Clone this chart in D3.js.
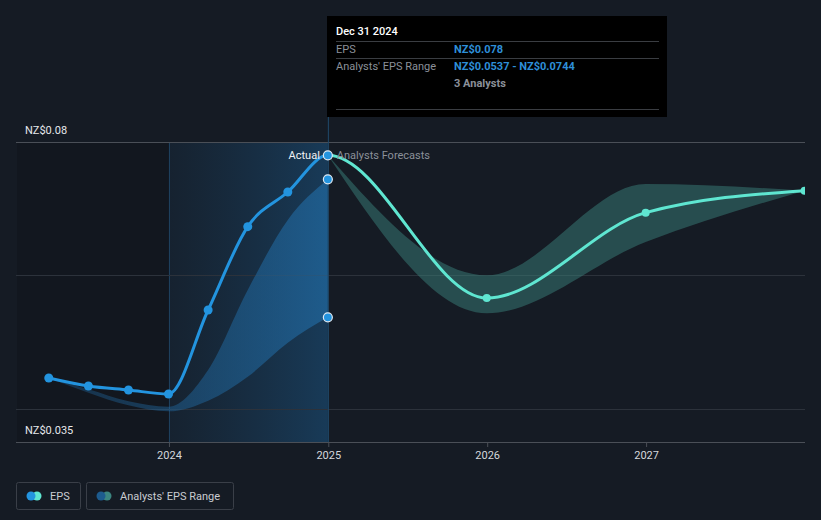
<!DOCTYPE html>
<html>
<head>
<meta charset="utf-8">
<script src="https://cdn.jsdelivr.net/npm/d3@7"></script>
<style>
    body { margin: 0; background: #151b24; font-family: Roboto, "Noto Sans", sans-serif; }
    #graphOne { display: block; }
</style>
</head>
<body>
<svg id="graphOne" width="821" height="520"></svg>
<script>
// quarterly reported EPS
var pastDates = ["2023-03-31", "2023-06-30", "2023-09-30", "2023-12-31", "2024-03-31", "2024-06-30", "2024-09-30", "2024-12-31"];
var pastEps = [0.0446, 0.0434, 0.0428, 0.0422, 0.0548, 0.0673, 0.0725, 0.078];
// analysts range around the past values
var pastLow = [0.0446, 0.0424, 0.0405, 0.0396, 0.0412, 0.0448, 0.0499, 0.0537];
var pastHigh = [0.0446, 0.0429, 0.0411, 0.0403, 0.0458, 0.0578, 0.0683, 0.0744];
// forecasts
var foreDates = ["2024-12-31", "2025-12-31", "2026-12-31", "2027-12-31"];
var foreEps = [0.078, 0.0566, 0.0694, 0.0727];
var foreLow = [0.078, 0.0543, 0.065, 0.0727];
var foreHigh = [0.078, 0.06, 0.0737, 0.0727];
var yTicks = [0.04, 0.06, 0.08];
var xTicks = ["2024-01-01", "2025-01-01", "2026-01-01", "2027-01-01"];

var blue = "#2394df";
var teal = "#5fe6d1";
var parse = d3.timeParse("%Y-%m-%d");
var svg = d3.select("#graphOne");

var x = d3.scaleTime().domain([parse("2023-01-17"), parse("2028-01-01")]).range([17, 805]);
var y = d3.scaleLinear().domain([0.035, 0.08]).range([442, 142]);
var plotTop = 142, plotBottom = 442;
var xNow = x(parse("2024-12-31"));
var x2024 = x(parse("2024-01-01"));

var defs = svg.append("defs");
var g1 = defs.append("linearGradient").attr("id", "pastGrad").attr("x1", "0").attr("x2", "1").attr("y1", "0").attr("y2", "0");
g1.append("stop").attr("offset", "0%").attr("stop-color", "#1b4a72").attr("stop-opacity", 0.15);
g1.append("stop").attr("offset", "100%").attr("stop-color", "#1b5a8c").attr("stop-opacity", 0.5);
var g2 = defs.append("linearGradient").attr("id", "bandGrad").attr("x1", "0").attr("x2", "1").attr("y1", "0").attr("y2", "0");
g2.append("stop").attr("offset", "0%").attr("stop-color", "#1e5a8a").attr("stop-opacity", 0.4);
g2.append("stop").attr("offset", "100%").attr("stop-color", "#2376b5").attr("stop-opacity", 0.55);
defs.append("clipPath").attr("id", "plotClip").append("rect").attr("x", 0).attr("y", 0).attr("width", 805).attr("height", 520);
defs.append("clipPath").attr("id", "pastClip").append("rect").attr("x", 0).attr("y", 0).attr("width", xNow).attr("height", 520);
defs.append("clipPath").attr("id", "foreClip").append("rect").attr("x", xNow).attr("y", 0).attr("width", 805 - xNow).attr("height", 520);

// shaded regions
svg.append("rect").attr("x", 17).attr("y", plotTop).attr("width", x2024 - 17).attr("height", plotBottom - plotTop).attr("fill", "#000").attr("opacity", 0.12);
svg.append("rect").attr("x", x2024).attr("y", plotTop).attr("width", xNow - x2024).attr("height", plotBottom - plotTop).attr("fill", "url(#pastGrad)");
svg.append("line").attr("x1", x2024 + 0.5).attr("x2", x2024 + 0.5).attr("y1", plotTop).attr("y2", plotBottom).attr("stroke", "#1f4260").attr("stroke-width", 1);

// grid
svg.selectAll(".grid").data(yTicks).enter().append("line").attr("class", "grid")
    .attr("x1", 16).attr("x2", 805).attr("y1", function(d) { return Math.round(y(d)) + 0.5; }).attr("y2", function(d) { return Math.round(y(d)) + 0.5; })
    .attr("stroke", function(d) { return d == 0.08 ? "#4a4f57" : "#2c323b"; }).attr("stroke-width", 1);

// bottom axis
var xAxis = svg.append("g").attr("transform", "translate(0," + plotBottom + ")")
    .call(d3.axisBottom(x).tickValues(xTicks.map(parse)).tickFormat(d3.timeFormat("%Y")).tickSize(5).tickPadding(4));
xAxis.select(".domain").remove();
xAxis.selectAll(".tick line").attr("stroke", "#4a4f57");
xAxis.selectAll(".tick text").attr("fill", "#d4d7dc").attr("font-size", "11px").attr("font-family", "Roboto, sans-serif");
svg.append("line").attr("x1", 16).attr("x2", 805).attr("y1", plotBottom + 0.5).attr("y2", plotBottom + 0.5).attr("stroke", "#4a4f57");

svg.append("text").attr("x", 25).attr("y", y(0.08) - 8).attr("fill", "#e6e8eb").attr("font-size", "11px").text("NZ$0.08");
svg.append("text").attr("x", 25).attr("y", y(0.035) - 8).attr("fill", "#e6e8eb").attr("font-size", "11px").text("NZ$0.035");

function rows(dates, vals) {
    return dates.map(function(d, i) { return { date: parse(d), v: vals[i] }; });
}
function band(dates, lo, hi) {
    return dates.map(function(d, i) { return { date: parse(d), lo: lo[i], hi: hi[i] }; });
}

var plot = svg.append("g").attr("clip-path", "url(#plotClip)");
var area = d3.area().x(function(d) { return x(d.date); }).y0(function(d) { return y(d.lo); }).y1(function(d) { return y(d.hi); }).curve(d3.curveMonotoneX);
var line = d3.line().x(function(d) { return x(d.date); }).y(function(d) { return y(d.v); }).curve(d3.curveMonotoneX);

plot.append("path").attr("d", area(band(pastDates, pastLow, pastHigh))).attr("fill", "url(#bandGrad)");
plot.append("path").attr("d", area(band(foreDates, foreLow, foreHigh))).attr("fill", "#3a8079").attr("opacity", 0.5);

// hover line
svg.append("line").attr("x1", xNow + 0.5).attr("x2", xNow + 0.5).attr("y1", 117).attr("y2", plotBottom).attr("stroke", "#1f4a6c").attr("stroke-width", 1);

// one continuous curve, split in colour at the last report
var allEps = rows(pastDates, pastEps).concat(rows(foreDates, foreEps).slice(1));
plot.append("g").attr("clip-path", "url(#foreClip)").append("path").attr("d", line(allEps)).attr("stroke", teal).attr("stroke-width", 3).attr("fill", "none");
plot.append("g").attr("clip-path", "url(#pastClip)").append("path").attr("d", line(allEps)).attr("stroke", blue).attr("stroke-width", 3).attr("fill", "none");

plot.selectAll(".fdot").data(rows(foreDates, foreEps).slice(1)).enter().append("circle")
    .attr("cx", function(d) { return x(d.date); }).attr("cy", function(d) { return y(d.v); }).attr("r", 4).attr("fill", teal);
plot.selectAll(".pdot").data(rows(pastDates, pastEps).slice(0, -1)).enter().append("circle")
    .attr("cx", function(d) { return x(d.date); }).attr("cy", function(d) { return y(d.v); }).attr("r", 4.5).attr("fill", blue);

// highlighted points on Dec 31 2024
var last = pastDates.length - 1;
[pastEps[last], pastHigh[last], pastLow[last]].forEach(function(v) {
    svg.append("circle").attr("cx", xNow).attr("cy", y(v)).attr("r", 4.5).attr("fill", blue).attr("stroke", "#dfe9f2").attr("stroke-width", 1.2);
});

svg.append("text").attr("x", xNow - 8).attr("y", y(0.078) + 4).attr("text-anchor", "end").attr("fill", "#f0f2f4").attr("font-size", "11px").text("Actual");
svg.append("text").attr("x", xNow + 9).attr("y", y(0.078) + 4).attr("fill", "#8b9099").attr("font-size", "11px").text("Analysts Forecasts");

// tooltip
var tip = svg.append("g").attr("transform", "translate(327,16)");
tip.append("rect").attr("width", 340).attr("height", 101).attr("fill", "#000");
tip.append("text").attr("x", 9).attr("y", 19).attr("fill", "#fff").attr("font-size", "11px").attr("font-weight", 500).text("Dec 31 2024");
[25.5, 42.5, 93.5].forEach(function(ly) {
    tip.append("line").attr("x1", 9).attr("x2", 332).attr("y1", ly).attr("y2", ly).attr("stroke", "#3a3d42");
});
tip.append("text").attr("x", 9).attr("y", 37).attr("fill", "#8b9099").attr("font-size", "11px").text("EPS");
tip.append("text").attr("x", 127).attr("y", 37).attr("fill", "#2e8fd8").attr("font-size", "11px").attr("font-weight", "bold").text("NZ$" + pastEps[last]);
tip.append("text").attr("x", 9).attr("y", 54).attr("fill", "#8b9099").attr("font-size", "11px").text("Analysts' EPS Range");
tip.append("text").attr("x", 127).attr("y", 54).attr("fill", "#2e8fd8").attr("font-size", "11px").attr("font-weight", "bold").text("NZ$" + pastLow[last] + " - NZ$" + pastHigh[last]);
tip.append("text").attr("x", 127).attr("y", 71).attr("fill", "#8b9099").attr("font-size", "11px").attr("font-weight", "bold").text("3 Analysts");

// legend
function legendBox(lx, w, c1, c2, label) {
    var lg = svg.append("g").attr("transform", "translate(" + lx + ",482)");
    lg.append("rect").attr("x", 0.5).attr("y", 0.5).attr("width", w).attr("height", 27).attr("rx", 2).attr("fill", "none").attr("stroke", "#3a3f48");
    lg.append("circle").attr("cx", 21).attr("cy", 14).attr("r", 4.5).attr("fill", c2);
    lg.append("circle").attr("cx", 15).attr("cy", 14).attr("r", 4.5).attr("fill", c1);
    lg.append("text").attr("x", 34).attr("y", 18).attr("fill", "#c9ccd1").attr("font-size", "11px").text(label);
}
legendBox(16, 64, blue, teal, "EPS");
legendBox(86, 147, "#1d5b8e", "#3b8580", "Analysts' EPS Range");
</script>
</body>
</html>
